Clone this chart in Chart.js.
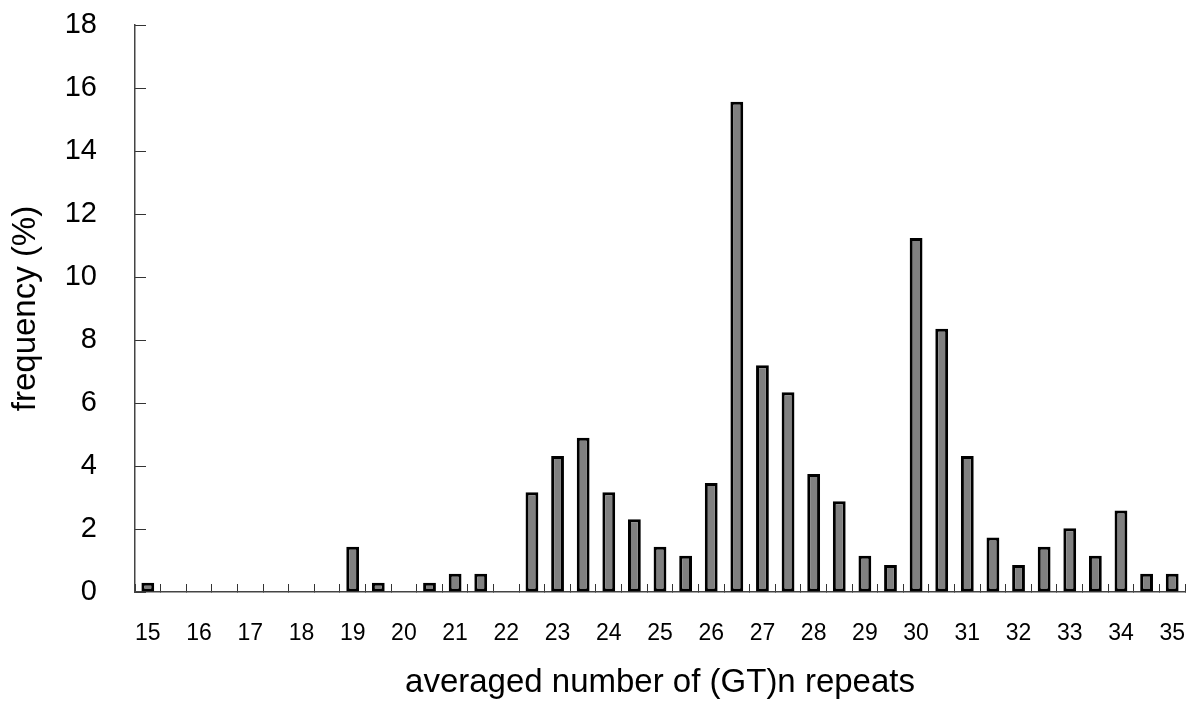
<!DOCTYPE html>
<html>
<head>
<meta charset="utf-8">
<title>(GT)n repeats</title>
<script src="https://cdn.jsdelivr.net/npm/chart.js@4.4.1/dist/chart.umd.min.js"></script>
<style>
  html, body { margin: 0; padding: 0; background: #fff; }
  #wrap { width: 1191px; height: 707px; position: relative; }
</style>
</head>
<body>
<div id="wrap"><canvas id="repeatsGraph"></canvas></div>
<script>
// averaged number of (GT)n repeats, half-unit steps
const repeats = [
  15, 15.5, 16, 16.5, 17, 17.5, 18, 18.5, 19, 19.5,
  20, 20.5, 21, 21.5, 22, 22.5, 23, 23.5, 24, 24.5,
  25, 25.5, 26, 26.5, 27, 27.5, 28, 28.5, 29, 29.5,
  30, 30.5, 31, 31.5, 32, 32.5, 33, 33.5, 34, 34.5, 35
];

// frequency (%)
const frequency = [
  0.29, 0, 0, 0, 0, 0, 0, 0, 1.44, 0.29,
  0, 0.29, 0.58, 0.58, 0, 3.17, 4.32, 4.90, 3.17, 2.31,
  1.44, 1.15, 3.46, 15.56, 7.20, 6.34, 3.75, 2.88, 1.15, 0.86,
  11.24, 8.36, 4.32, 1.73, 0.86, 1.44, 2.02, 1.15, 2.59, 0.58, 0.58
];

const yTicks = [0, 2, 4, 6, 8, 10, 12, 14, 16, 18];

const FONT = '"Liberation Sans", Arial, sans-serif';

const ctx = document.getElementById('repeatsGraph').getContext('2d');
const graph = new Chart(ctx, {
  type: 'bar',
  data: {
    labels: repeats,
    datasets: [
      {
        label: 'frequency',
        data: frequency,
        backgroundColor: '#808080',
        borderColor: '#000',
        borderWidth: 3,
        borderSkipped: false,
        categoryPercentage: 1,
        barPercentage: 0.5
      }
    ]
  },
  options: {
    responsive: true,
    maintainAspectRatio: false,
    animation: false,
    layout: {
      padding: { top: 25, right: 6, left: 0, bottom: 0 }
    },
    plugins: {
      legend: { display: false },
      tooltip: { enabled: false }
    },
    scales: {
      x: {
        grid: {
          display: true,
          drawOnChartArea: false,
          drawTicks: true,
          tickLength: -8,        // tick marks pointing into the plot
          color: '#333',
          lineWidth: 1
        },
        border: { display: true, color: '#444', width: 1.5 },
        ticks: {
          autoSkip: false,
          maxRotation: 0,
          minRotation: 0,
          padding: 36,
          color: '#000',
          font: { family: FONT, size: 23 },
          callback: function (val, index) {
            const v = repeats[index];
            return v % 1 === 0 ? String(v) : '';
          }
        },
        title: {
          display: true,
          text: 'averaged number of (GT)n repeats',
          color: '#000',
          font: { family: FONT, size: 33 },
          padding: { top: 0, bottom: 4 }
        },
        afterFit: function (scale) {
          scale.height = 115;
          scale.paddingLeft = 0;
          scale.paddingRight = 0;
        }
      },
      y: {
        min: 0,
        max: 18,
        grid: {
          display: true,
          drawOnChartArea: false,
          drawTicks: true,
          tickLength: -11,
          color: '#333',
          lineWidth: 1
        },
        border: { display: true, color: '#444', width: 1.5 },
        afterBuildTicks: function (scale) {
          scale.ticks = yTicks.map(v => ({ value: v }));
        },
        ticks: {
          padding: 49,
          color: '#000',
          font: { family: FONT, size: 29 }
        },
        title: {
          display: true,
          text: 'frequency (%)',
          color: '#000',
          font: { family: FONT, size: 33 },
          padding: { top: 6, bottom: 0 }
        },
        afterFit: function (scale) {
          scale.width = 135;
          scale.paddingTop = 0;
          scale.paddingBottom = 0;
        }
      }
    }
  }
});
</script>
</body>
</html>
